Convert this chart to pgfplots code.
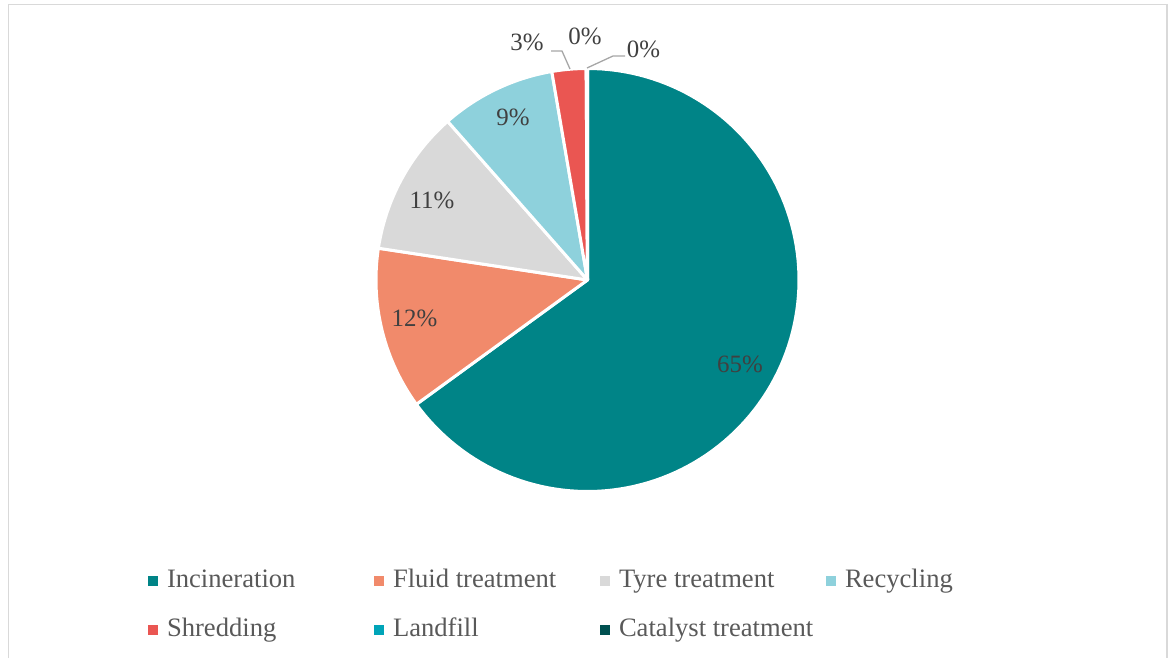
\documentclass[border=0pt]{standalone}
\usepackage{pgfplots}
\usepackage{pgfplotstable}
\pgfplotsset{compat=1.18}
\usepackage{fontspec}
\setmainfont{Liberation Serif}
\definecolor{cInc}{RGB}{0,132,135}
\definecolor{cFluid}{RGB}{241,138,107}
\definecolor{cTyre}{RGB}{217,217,217}
\definecolor{cRecyc}{RGB}{142,209,220}
\definecolor{cShred}{RGB}{234,86,82}
\definecolor{cLand}{RGB}{0,164,184}
\definecolor{cCat}{RGB}{0,80,80}
\definecolor{labelgray}{RGB}{64,64,64}
\definecolor{legendgray}{RGB}{89,89,89}
\definecolor{framegray}{RGB}{217,217,217}
\definecolor{leadergray}{RGB}{166,166,166}
\pgfplotstableread{
name value color
Incineration 65.0 cInc
Fluid 12.4 cFluid
Tyre 11.1 cTyre
Recycling 8.8 cRecyc
Shredding 2.6 cShred
Landfill 0.05 cLand
Catalyst 0.05 cCat
}\pietable
\begin{document}
\begin{tikzpicture}
\begin{axis}[
  scale only axis, width=1176bp, height=658bp,
  xmin=0, xmax=1176, ymin=0, ymax=658,
  hide axis, clip=false,
  legend columns=4,
  legend image code/.code={\fill[#1, draw=none] (0bp,-5bp) rectangle (10bp,5bp);},
  legend style={at={(axis cs:148,89)}, anchor=north west, draw=none, fill=none,
    inner sep=0pt, outer sep=0pt,
    font=\fontsize{26.7}{30}\selectfont, text=legendgray,
    nodes={inner sep=0pt, text height=18bp, text depth=6bp},
    row sep=25bp,
    /tikz/every odd column/.append style={column sep=9bp},
    /tikz/every even column/.append style={column sep=0bp}},
  legend cell align=left,
  legend entries={\makebox[207bp][l]{Incineration},\makebox[207bp][l]{Fluid treatment},\makebox[207bp][l]{Tyre treatment},\makebox[207bp][l]{Recycling},\makebox[207bp][l]{Shredding},\makebox[207bp][l]{Landfill},\makebox[207bp][l]{Catalyst treatment}},
]
\path (axis cs:0,0) rectangle (axis cs:1176,658);
% frame
\draw[framegray, line width=1.5bp] (axis cs:8.3,0) -- (axis cs:8.3,653.5) -- (axis cs:1167,653.5) -- (axis cs:1167,0);
% pie slices from the table
\def\cum{0}
\pgfplotsforeachungrouped \i in {0,...,6}{%
  \pgfplotstablegetelem{\i}{value}\of\pietable \let\v\pgfplotsretval
  \pgfplotstablegetelem{\i}{color}\of\pietable \let\c\pgfplotsretval
  \pgfmathsetmacro\a{90-3.6*\cum}%
  \pgfmathsetmacro\b{90-3.6*(\cum+\v)}%
  \pgfmathsetmacro\cum{\cum+\v}%
  \edef\cmd{\noexpand\addplot[fill=\c, draw=white, line width=3bp, line join=round, domain=\b:\a, samples=120, variable=\noexpand\t] ({587.5+211.5*cos(\noexpand\t)},{378+211.5*sin(\noexpand\t)}) -- (axis cs:587.5,378) -- cycle;}%
  \cmd
}
% data labels
\begin{scope}[every node/.style={font=\fontsize{25}{30}\selectfont, text=labelgray, inner sep=0pt, text depth=0pt}]
\node at (axis cs:740,294) {65\%};
\node at (axis cs:414.5,340) {12\%};
\node at (axis cs:432,458) {11\%};
\node at (axis cs:513,541) {9\%};
\node at (axis cs:527,615.5) {3\%};
\node at (axis cs:585,621.5) {0\%};
\node at (axis cs:643.5,608.5) {0\%};
\end{scope}
% leader lines
\draw[leadergray, line width=1.3bp] (axis cs:551,607) -- (axis cs:562,607) -- (axis cs:570,589);
\draw[leadergray, line width=1.3bp] (axis cs:587,590) -- (axis cs:613,602) -- (axis cs:625,602);
\end{axis}
\end{tikzpicture}
\end{document}
